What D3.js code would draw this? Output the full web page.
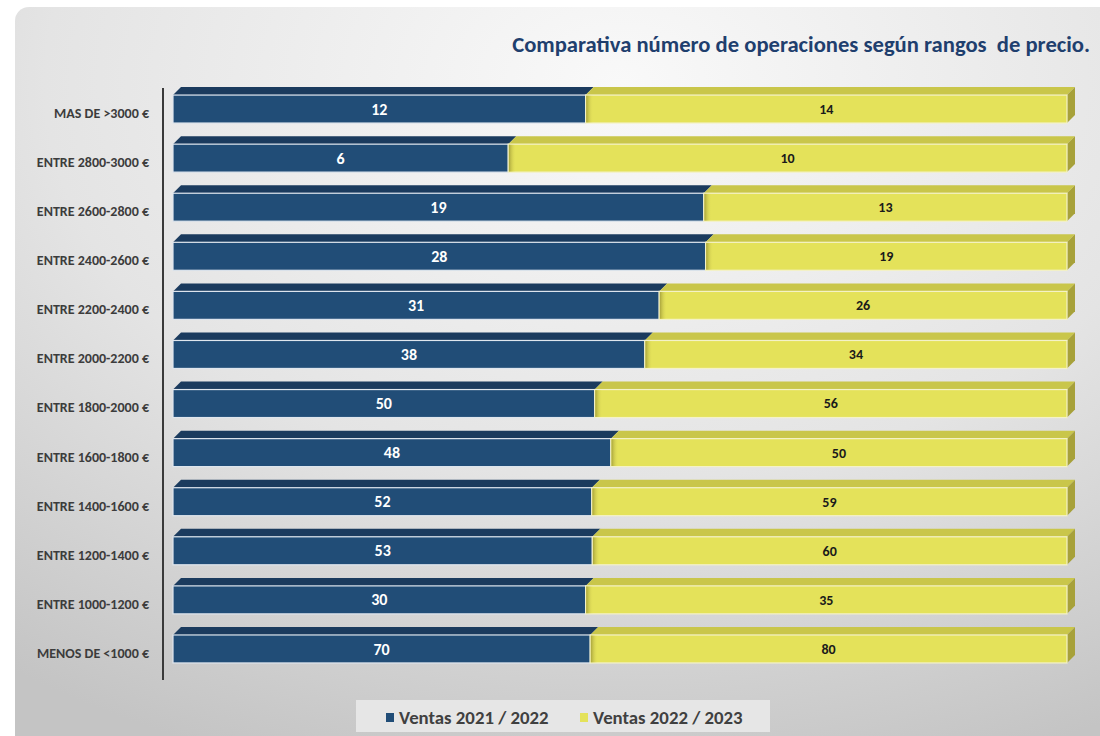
<!DOCTYPE html>
<html><head><meta charset="utf-8">
<script src="https://cdn.jsdelivr.net/npm/d3@7"></script>
<style>
html,body{margin:0;padding:0;background:#fff;}
svg{display:block;font-family:Carlito,"Open Sans",sans-serif;}
</style></head>
<body><svg id="c" width="1100" height="736"></svg>
<script>
const categories = ["MAS DE >3000 €","ENTRE 2800-3000 €","ENTRE 2600-2800 €","ENTRE 2400-2600 €","ENTRE 2200-2400 €","ENTRE 2000-2200 €","ENTRE 1800-2000 €","ENTRE 1600-1800 €","ENTRE 1400-1600 €","ENTRE 1200-1400 €","ENTRE 1000-1200 €","MENOS DE <1000 €"];
const ventas2122 = [12,6,19,28,31,38,50,48,52,53,30,70];
const ventas2223 = [14,10,13,19,26,34,56,50,59,60,35,80];
const seriesNames = ["Ventas 2021 / 2022","Ventas 2022 / 2023"];
const title = "Comparativa número de operaciones según rangos  de precio.";

const svg = d3.select("#c");
const defs = svg.append("defs");
const rg = defs.append("radialGradient").attr("id","bg").attr("cx","0.55").attr("cy","0.1").attr("r","0.95");
rg.append("stop").attr("offset","0").attr("stop-color","#f9f9f9");
rg.append("stop").attr("offset","0.55").attr("stop-color","#e4e4e4");
rg.append("stop").attr("offset","1").attr("stop-color","#c4c4c4");
const sg = defs.append("linearGradient").attr("id","seam").attr("x1","0").attr("x2","1");
sg.append("stop").attr("offset","0").attr("stop-color","#a9a43c");
sg.append("stop").attr("offset","1").attr("stop-color","#e3e05a").attr("stop-opacity","0");

svg.append("rect").attr("x",15).attr("y",7).attr("width",1100).attr("height",760).attr("rx",14).attr("fill","url(#bg)");

// title
const t = svg.append("text").attr("x",1090).attr("y",52).attr("text-anchor","end")
  .style("white-space","pre")
  .attr("fill","#1f3f6e").attr("font-weight",700).attr("font-size",19).text(title);
const tw = t.node().getComputedTextLength();
t.attr("font-size", 19*578/tw);

const x = d3.scaleLinear().domain([0,1]).range([173,1067]);
const y = d3.scaleBand().domain(categories).range([84.5,673.5]).paddingInner(0.43).paddingOuter(0.215);
const D = 8; // 3d depth
const data = categories.map((c,i)=>({c, a:ventas2122[i], b:ventas2223[i], t:ventas2122[i]+ventas2223[i]}));

const rows = svg.append("g").selectAll("g").data(data).join("g");
rows.each(function(d){
  const g = d3.select(this);
  const y0 = y(d.c), h = y.bandwidth();
  const x0 = x(0), xs = x(d.a/d.t), x1 = x(1);
  g.append("path").attr("d",`M${x0},${y0}L${x0+D},${y0-D}L${xs+D},${y0-D}L${xs},${y0}Z`).attr("fill","#1b3b5e");
  g.append("path").attr("d",`M${xs},${y0}L${xs+D},${y0-D}L${x1+D},${y0-D}L${x1},${y0}Z`).attr("fill","#c9c64a");
  g.append("path").attr("d",`M${x1},${y0}L${x1+D},${y0-D}L${x1+D},${y0+h-D}L${x1},${y0+h}Z`).attr("fill","#a7a13a");
  g.append("rect").attr("x",x0).attr("y",y0).attr("width",xs-x0).attr("height",h).attr("fill","#214d77").attr("stroke","#dfe6ee").attr("stroke-width",1.2);
  g.append("rect").attr("x",xs).attr("y",y0).attr("width",x1-xs).attr("height",h).attr("fill","#e4e25a").attr("stroke","#f4f2c8").attr("stroke-width",1.2);
  g.append("rect").attr("x",xs+0.6).attr("y",y0+0.6).attr("width",7).attr("height",h-1.2).attr("fill","url(#seam)");
  g.append("text").attr("x",(x0+xs)/2).attr("y",y0+h/2).attr("dy","0.35em").attr("text-anchor","middle")
    .attr("fill","#fff").attr("font-weight",700).attr("font-size",16).text(d.a);
  g.append("text").attr("x",(xs+x1)/2).attr("y",y0+h/2).attr("dy","0.35em").attr("text-anchor","middle")
    .attr("fill","#1a1a1a").attr("font-weight",700).attr("font-size",14).text(d.b);
});

// axis
const ax = svg.append("g").attr("transform","translate(163,0)").call(d3.axisLeft(y).tickSize(0).tickPadding(14));
ax.select(".domain").attr("stroke","#3a3a3a").attr("stroke-width",2).attr("d","M0,88V680");
ax.selectAll("text").attr("font-size",14).attr("font-weight",700).attr("fill","#3c3c3c").attr("font-family",'Carlito,"Open Sans",sans-serif').attr("dy","0.35em")
  .attr("transform","translate(0,4)");

// legend
const lg = svg.append("g");
lg.append("rect").attr("x",356).attr("y",700).attr("width",414).attr("height",32).attr("fill","#e6e6e6");
const lx = [386,580], colors = ["#214d77","#e4e25a"];
seriesNames.forEach((n,i)=>{
  lg.append("rect").attr("x",lx[i]).attr("y",713).attr("width",8).attr("height",9).attr("fill",colors[i]);
  lg.append("text").attr("x",lx[i]+13).attr("y",717).attr("dy","0.35em").attr("fill","#404040").attr("font-weight",700).attr("font-size",18.8).text(n);
});
</script></body></html>
